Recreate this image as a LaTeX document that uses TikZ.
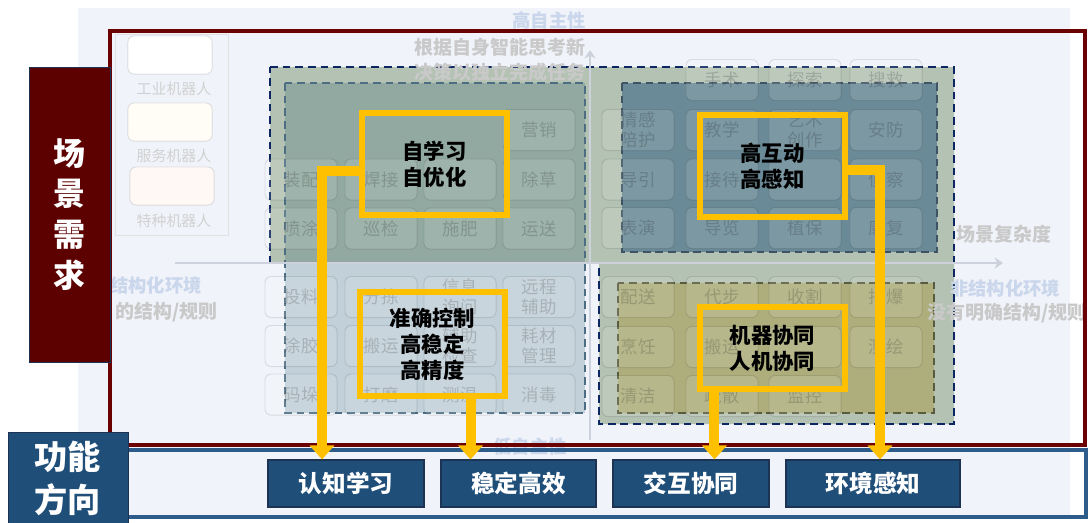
\documentclass[tikz,border=0pt]{standalone}
\usepackage{fontspec}
\setmainfont{Noto Sans CJK SC}
\usetikzlibrary{arrows.meta, positioning}
\definecolor{paleback}{rgb}{0.941, 0.953, 0.976}
\definecolor{scenered}{rgb}{0.361, 0, 0}
\definecolor{framered}{rgb}{0.420, 0, 0}
\definecolor{funcblue}{rgb}{0.122, 0.306, 0.475}
\definecolor{frameblue}{rgb}{0.180, 0.361, 0.541}
\definecolor{edgeblue}{rgb}{0.110, 0.200, 0.330}
\definecolor{hiyellow}{rgb}{1.0, 0.753, 0}
\definecolor{sagefill}{rgb}{0.702, 0.761, 0.698}
\definecolor{navydash}{rgb}{0.043, 0.149, 0.376}
\definecolor{tealink}{rgb}{0.040, 0.275, 0.353}
\definecolor{tealdash}{rgb}{0.302, 0.431, 0.510}
\definecolor{slatefill}{rgb}{0.420, 0.541, 0.593}
\definecolor{slatedash}{rgb}{0.243, 0.325, 0.392}
\definecolor{olivefill}{rgb}{0.678, 0.682, 0.486}
\definecolor{olivedash}{rgb}{0.353, 0.353, 0.251}
\definecolor{fadegrey}{rgb}{0.790, 0.790, 0.790}
\definecolor{fadeblue}{rgb}{0.790, 0.840, 0.920}
\definecolor{axisgrey}{rgb}{0.800, 0.820, 0.860}
\definecolor{creamfill}{rgb}{1.0, 0.992, 0.960}
\definecolor{pinkfill}{rgb}{1.0, 0.973, 0.955}

\begin{document}
\begin{tikzpicture}[x=0.025cm, y=-0.025cm,
    task/.style={draw=black, draw opacity=0.1, line width=0.7pt, rounded corners=0.15cm, fill=white, fill opacity=0.12, text=black, text opacity=0.17, minimum width=1.8cm, minimum height=1.025cm, inner sep=0pt, align=center, font=\fontsize{12.4}{14.2}\selectfont},
    legendbox/.style={draw=black, draw opacity=0.1, line width=0.7pt, rounded corners=0.15cm, minimum width=2.1cm, minimum height=0.95cm, inner sep=0pt},
    legendtext/.style={text=fadegrey!85, font=\fontsize{10.6}{12}\selectfont, inner sep=0pt},
    faint/.style={text=fadegrey, font=\fontsize{13.5}{16}\selectfont\bfseries, inner sep=0pt},
    faintblue/.style={text=fadeblue, font=\fontsize{13}{16}\selectfont\bfseries, inner sep=0pt},
    axis/.style={draw=axisgrey, line width=1.4pt, -{Stealth[width=8pt, length=6pt]}},
    region/.style={line width=1.4pt, dash pattern=on 5.5pt off 3.5pt},
    focus/.style={draw=hiyellow, line width=0.15cm, inner sep=0pt, align=center, font=\fontsize{15.2}{18.4}\selectfont\bfseries},
    func/.style={draw=edgeblue, line width=0.8pt, fill=funcblue, text=white, minimum height=1.175cm, inner sep=0pt, font=\fontsize{16.8}{20}\selectfont\bfseries},
    flow/.style={draw=hiyellow, line width=0.25cm, -{Triangle[width=0.6cm, length=0.35cm]}}]

        \useasboundingbox (0,0) rectangle (1088,522);
        \fill[paleback] (78,8) rectangle (1070,515);

        \draw[black!12, line width=0.7pt] (115,34) rectangle (228,235);
        \node[legendbox, fill=white] (indbox) at (170,55) {};
        \node[legendbox, fill=creamfill] (srvbox) at (170,122) {};
        \node[legendbox, fill=pinkfill] (spcbox) at (172,186) {};
        \node[legendtext] (indlab) at (174,89) {工业机器人};
        \node[legendtext] (srvlab) at (174,156) {服务机器人};
        \node[legendtext] (spclab) at (174,221) {特种机器人};

        \draw[region, navydash, fill=sagefill] (270,67) -- (954,67) -- (954,424) -- (599,424) -- (599,263) -- (270,263) -- cycle;
        \fill[tealink, fill opacity=0.2] (285,83) rectangle (585,413);
        \draw[region, tealdash] (285,83) rectangle (585,413);
        \draw[region, slatedash, fill=slatefill] (622,83) rectangle (937,252);
        \draw[region, olivedash, fill=olivefill] (618,283) rectangle (934,413);

        \node[task] (tD1) at (539,130) {营销};
        \node[task] (tA2) at (301,179.5) {装配};
        \node[task] (tB2) at (381,179.5) {焊接};
        \node[task] (tC2) at (460,179.5) {};
        \node[task] (tD2) at (539,179.5) {除草};
        \node[task] (tA3) at (301,228.5) {喷涂};
        \node[task] (tB3) at (381,228.5) {巡检};
        \node[task] (tC3) at (460,228.5) {施肥};
        \node[task] (tD3) at (539,228.5) {运送};
        \node[task] (tA4) at (301,297) {投料};
        \node[task] (tB4) at (381,297) {分拣};
        \node[task] (tC4) at (460,297) {信息\\询问};
        \node[task] (tD4) at (539,297) {远程\\辅助};
        \node[task] (tA5) at (301,346) {涂胶};
        \node[task] (tB5) at (381,346) {搬运};
        \node[task] (tC5) at (460,346) {辅助\\检查};
        \node[task] (tD5) at (539,346) {耗材\\管理};
        \node[task] (tA6) at (301,394.5) {码垛};
        \node[task] (tB6) at (381,394.5) {打磨};
        \node[task] (tC6) at (460,394.5) {测温};
        \node[task] (tD6) at (539,394.5) {消毒};

        \node[task] (tF0) at (722,80) {手术};
        \node[task] (tG0) at (805,80) {探索};
        \node[task] (tH0) at (886,80) {搜救};
        \node[task] (tE1) at (638,130) {情感\\陪护};
        \node[task] (tF1) at (722,130) {教学};
        \node[task] (tG1) at (805,130) {艺术\\创作};
        \node[task] (tH1) at (886,130) {安防};
        \node[task] (tE2) at (638,179.5) {导引};
        \node[task] (tF2) at (722,179.5) {接待};
        \node[task] (tG2) at (805,179.5) {};
        \node[task] (tH2) at (886,179.5) {侦察};
        \node[task] (tE3) at (638,228) {表演};
        \node[task] (tF3) at (722,228) {导览};
        \node[task] (tG3) at (805,228) {植保};
        \node[task] (tH3) at (886,228) {康复};
        \node[task] (tE4) at (638,297) {配送};
        \node[task] (tF4) at (722,297) {代步};
        \node[task] (tG4) at (805,297) {收割};
        \node[task] (tH4) at (886,297) {排爆};
        \node[task] (tE5) at (638,347) {烹饪};
        \node[task] (tF5) at (722,347) {搬运};
        \node[task] (tG5) at (805,347) {};
        \node[task] (tH5) at (886,347) {测绘};
        \node[task] (tE6) at (638,396) {清洁};
        \node[task] (tF6) at (722,396) {疏散};
        \node[task] (tG6) at (805,396) {监控};

        \coordinate (vbase) at (590,440);
        \coordinate (vtip) at (590,50);
        \coordinate (hbase) at (175,263);
        \coordinate (htip) at (1003,263);
        \draw[axis] (vbase) -- (vtip);
        \draw[axis] (hbase) -- (htip);

        \node[faintblue, anchor=east] (hiauto) at (586,20) {高自主性};
        \node[faint, anchor=east] (hitext1) at (586,47) {根据自身智能思考新};
        \node[faint, anchor=east] (hitext2) at (586,72) {决策以独立完成任务};
        \node[faintblue, anchor=east] (loauto) at (567,447) {低自主性};
        \node[faintblue, anchor=west] (structed) at (110,285) {结构化环境};
        \node[faint, anchor=west] (structrule) at (115,312) {的结构/规则};
        \node[faintblue, anchor=west] (unstructed) at (950,288) {非结构化环境};
        \node[faint, anchor=west] (unstructrule) at (927,313) {没有明确结构/规则};
        \node[faint] (complexity) at (1004,234) {场景复杂度};

        \draw[framered, line width=0.1cm] (109.5,31) rectangle (1085,445);
        \node[draw=edgeblue, line width=0.6pt, fill=scenered, text=white, minimum width=2.025cm, minimum height=7.375cm, inner sep=0pt, align=center, font=\fontsize{22.7}{29}\selectfont\bfseries] (scene) at (69.5,214.5) {场\\景\\需\\求};

        \draw[frameblue, line width=0.1cm] (100,450) rectangle (1086,517);
        \node[draw=edgeblue, line width=0.6pt, fill=funcblue, text=white, minimum width=3cm, minimum height=2.3cm, inner sep=0pt, align=center, font=\fontsize{23.6}{30.5}\selectfont\bfseries] (funcdir) at (68,478) {功能\\方向};

        \node[func, minimum width=3.9cm] (cogbox) at (346,483.5) {认知学习};
        \node[func, minimum width=3.875cm] (stabbox) at (518.5,483.5) {稳定高效};
        \node[func, minimum width=3.9cm] (interfunc) at (691,483.5) {交互协同};
        \node[func, minimum width=4.35cm] (envbox) at (873,483.5) {环境感知};

        \node[focus, minimum width=3.625cm, minimum height=2.55cm] (selfbox) at (434.5,164) {自学习\\自优化};
        \node[focus, minimum width=3.625cm, minimum height=2.55cm] (interbox) at (772.5,166) {高互动\\高感知};
        \node[focus, minimum width=3.625cm, minimum height=2.6cm] (ctrlbox) at (432.5,344) {准确控制\\高稳定\\高精度};
        \node[focus, minimum width=3.625cm, minimum height=2.05cm] (collabbox) at (772.5,348) {机器协同\\人机协同};

        \draw[flow] ([yshift=-0.175cm]selfbox.west) -| ([xshift=-0.6cm]cogbox.north);
        \draw[flow] ([xshift=0.95cm]ctrlbox.south) -- ([xshift=0.95cm]ctrlbox.south |- stabbox.north);
        \draw[flow] ([xshift=-1.45cm]collabbox.south) -- ([xshift=-1.45cm]collabbox.south |- interfunc.north);
        \draw[flow] ([yshift=-0.1cm]interbox.east) -| ([xshift=0.175cm]envbox.north);
    \end{tikzpicture}
\end{document}
